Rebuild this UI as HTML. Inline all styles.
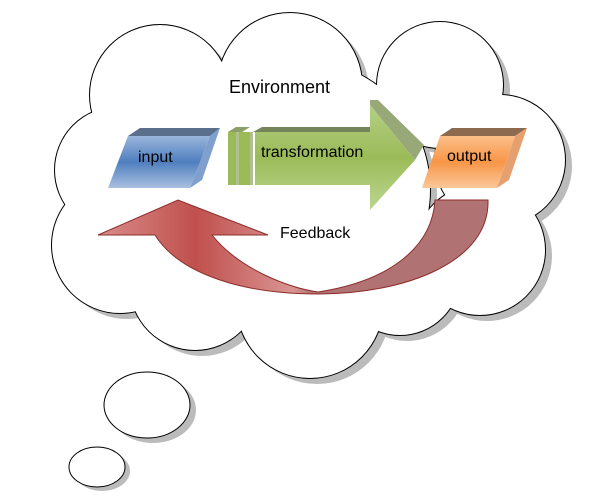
<!DOCTYPE html>
<html><head><meta charset="utf-8"><style>body{margin:0;background:#fff}svg{display:block}text{font-family:"Liberation Sans",sans-serif}</style></head><body>
<svg width="601" height="500" viewBox="0 0 601 500" xmlns="http://www.w3.org/2000/svg">
<defs>
<linearGradient id="blue" x1="0" y1="0" x2="0" y2="1"><stop offset="0" stop-color="#9ab5dc"/><stop offset="0.5" stop-color="#4f7fbf"/><stop offset="1" stop-color="#a9c0e0"/></linearGradient>
<linearGradient id="org" x1="0" y1="0" x2="0" y2="1"><stop offset="0" stop-color="#fbbf8a"/><stop offset="0.5" stop-color="#f79646"/><stop offset="1" stop-color="#fbc79a"/></linearGradient>
<linearGradient id="grn" x1="0" y1="0" x2="0" y2="1"><stop offset="0" stop-color="#b4cf84"/><stop offset="0.5" stop-color="#9bbb59"/><stop offset="1" stop-color="#bcd690"/></linearGradient>
<linearGradient id="red" x1="0" y1="0" x2="1" y2="0"><stop offset="0" stop-color="#d98c8a"/><stop offset="0.25" stop-color="#c0504d"/><stop offset="0.5" stop-color="#d99593"/><stop offset="0.55" stop-color="#b07272"/><stop offset="1" stop-color="#b07272"/></linearGradient>
<g id="cl">
<circle cx="160" cy="95" r="70"/><circle cx="290" cy="85" r="72"/><circle cx="440" cy="85" r="63"/>
<circle cx="500" cy="160" r="65"/><circle cx="480" cy="250" r="65"/><circle cx="400" cy="275" r="60"/>
<circle cx="310" cy="305" r="73"/><circle cx="195" cy="285" r="65"/><circle cx="120" cy="245" r="68"/>
<circle cx="118" cy="170" r="63"/><circle cx="300" cy="190" r="130"/>
</g>
</defs>
<g fill="#bbb" transform="translate(7,6)"><use href="#cl"/></g>
<g fill="#fff" stroke="#000" stroke-width="2"><use href="#cl"/></g>
<g fill="#fff"><use href="#cl"/></g>
<ellipse cx="153" cy="410" rx="43" ry="33" fill="#bbb"/>
<ellipse cx="147" cy="405" rx="43" ry="33" fill="#fff" stroke="#000"/>
<ellipse cx="102" cy="471" rx="28" ry="20" fill="#bbb"/>
<ellipse cx="97" cy="467" rx="28" ry="20" fill="#fff" stroke="#000"/>
<text x="229" y="93" font-size="18">Environment</text>
<polygon points="128,136 140,128 220,128 210,136" fill="#5a6f8c"/>
<polygon points="210,136 220,128 202,180 190,188" fill="#7f9fcf"/>
<polygon points="108,188 128,136 210,136 190,188" fill="url(#blue)"/>
<text x="138" y="162" font-size="16">input</text>
<polygon points="440,136 452,128 527,128 515,136" fill="#8c6a4f"/>
<polygon points="515,136 527,128 509,180 497,188" fill="#e6a070"/>
<polygon points="422,188 440,136 515,136 497,188" fill="url(#org)"/>
<text x="447" y="161" font-size="16">output</text>
<polygon points="228,132 236,127 250,127 242,132" fill="#8aa068"/>
<rect x="228" y="132" width="8" height="53" fill="#9bbb59"/>
<rect x="236" y="132" width="3" height="53" fill="#b0c090"/>
<rect x="239" y="132" width="11" height="53" fill="#9bbb59"/>
<rect x="250" y="132" width="3" height="53" fill="#b0c090"/>
<polygon points="253,132 262,127 370,127 370,132" fill="#76845c"/>
<polygon points="370,105 370,100 378,100 424,145 415,160" fill="#98a878"/>
<polygon points="255,132 370,132 370,105 415,160 370,210 370,185 255,185" fill="url(#grn)"/>
<text x="261" y="157" font-size="16">transformation</text>
<path d="M488,200 C490,262 405,294 318,294 C245,294 180,275 155,235 L98,235 L178,200 L268,235 L212,235 C240,270 290,288 318,292 C385,282 432,250 435,200 Z" fill="url(#red)" stroke="#8b2e2b" stroke-width="1"/>
<text x="280" y="238" font-size="16">Feedback</text>
</svg>
</body></html>
